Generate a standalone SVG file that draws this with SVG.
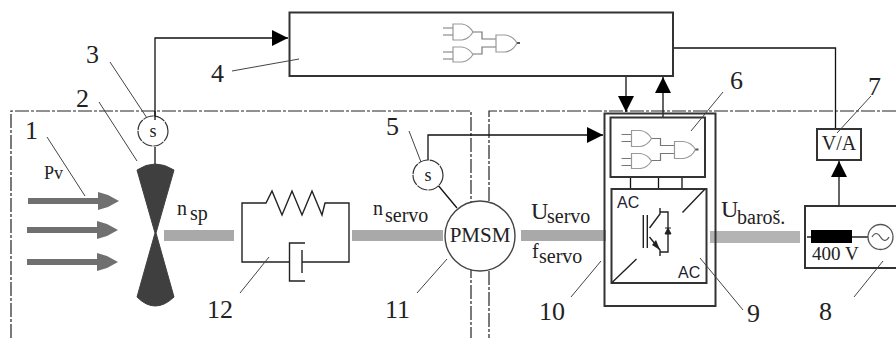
<svg xmlns="http://www.w3.org/2000/svg" xmlns:xlink="http://www.w3.org/1999/xlink" width="896" height="338" viewBox="0 0 896 338">
<style>
text{font-family:"Liberation Serif","Times New Roman",serif;fill:#222}
.num{font-size:26px}
.lbl{font-size:20px}
.ac{font-family:"Liberation Sans",Arial,sans-serif;font-size:16px;fill:#223}
.box{fill:#fff;stroke:#333;stroke-width:2}
.nf{fill:none;stroke:#222;stroke-width:1.4}
.lead{fill:none;stroke:#444;stroke-width:1}
.wire{fill:none;stroke:#111;stroke-width:1.3}
.frame{fill:none;stroke:#222;stroke-width:1.2;stroke-dasharray:14 2 3 2}
.bar{fill:#a9a9a9}
.sens{fill:#fff;stroke:#333;stroke-width:1.2;stroke-dasharray:11 1}
.flow{fill:#707070;stroke:none}
.g{fill:#fff;stroke:#999;stroke-width:1.2}
.g2{fill:none;stroke:#777;stroke-width:1.2}
</style>
<defs>
<marker id="ah" markerUnits="userSpaceOnUse" markerWidth="17" markerHeight="16" refX="16" refY="8" orient="auto"><path d="M0 0L16 8L0 16Z" fill="#000"/></marker>
<g id="gates">
<path class="g2" d="M443 28H453M443 35H453M443 52H453M443 59H453M472 32H482V39H496M472 54H482V47H496"/>
<path class="g" d="M453 24H462Q469 25 473 32Q469 39 462 40H453Z"/>
<path class="g" d="M453 47H462Q469 48 473 54.500Q469 61 462 62H453Z"/>
<path class="g" d="M496 35H505Q513 36 517 43Q513 51 505 52H496Z"/>
<path d="M517 43L520 43" stroke="#555" stroke-width="2"/>
</g>
<path id="flow" d="M0 -3H70V-9L80 -6L91 0L80 6L70 9V3H0Z"/>
</defs>

<g id="frames">
<path class="frame" d="M11 338V111H471V338"/>
<path class="frame" d="M896 111H489V338"/>
</g>

<g id="shafts">
<rect class="bar" x="164" y="230" width="70" height="11"/>
<rect class="bar" x="352" y="230" width="91" height="11"/>
<rect class="bar" x="521" y="230" width="85" height="11"/>
<rect x="710" y="231" width="90" height="12" fill="#b4b4b4"/>
</g>

<g id="connectors">
<path class="wire" d="M155 120V38H288" marker-end="url(#ah)"/>
<path class="wire" d="M155 147V164"/>
<path class="wire" d="M428 160V135H603" marker-end="url(#ah)"/>
<path class="wire" d="M437 184L457 208"/>
<path class="wire" d="M626 76V112" marker-end="url(#ah)"/>
<path class="wire" d="M663 117V77" marker-end="url(#ah)"/>
<path class="wire" d="M673 48H835.500V129"/>
<path class="wire" d="M839 206V161" marker-end="url(#ah)"/>
<path class="wire" d="M630.500 177V189M658.500 177V189M682 177V189"/>
</g>

<g id="node-wind">
<use href="#flow" x="28" y="201" class="flow"/>
<use href="#flow" x="27" y="230" class="flow"/>
<use href="#flow" x="27" y="262" class="flow"/>
<text x="44" y="179" style="font-size:18px">Pv</text>
</g>

<g id="node-turbine">
<path d="M137 170Q155 158 174 170L156 233L174 297Q155 315 137 297L155 233Z" fill="#3f3f3f" stroke="#3f3f3f" stroke-width="1" stroke-linejoin="round"/>
</g>

<g id="node-sensor-3">
<circle class="sens" cx="153" cy="131" r="15"/>
<path class="wire" d="M155 111V120"/>
<text x="153" y="137" text-anchor="middle" style="font-size:18px">s</text>
</g>

<g id="node-controller">
<rect class="box" x="289.500" y="12.500" width="383.500" height="63.500"/>
<use href="#gates"/>
</g>

<g id="node-coupling">
<path class="nf" d="M289 262H242V203H266L272 191L282 215L292 191L302 215L312 191L322 215L325 203H349V262H302"/>
<path class="nf" d="M305 243H289.500V281H305"/>
<path class="nf" d="M302 250V273"/>
</g>

<g id="node-sensor-5">
<circle class="sens" cx="428" cy="175" r="15"/>
<text x="428" y="181" text-anchor="middle" style="font-size:18px">s</text>
</g>

<g id="node-pmsm">
<circle cx="480" cy="236" r="35" fill="#fff" stroke="#444" stroke-width="1.4"/>
<text x="480" y="242" text-anchor="middle" style="font-size:21px">PMSM</text>
</g>

<g id="node-converter">
<rect x="604.500" y="113.500" width="111" height="192.500" fill="none" stroke="#333" stroke-width="2"/>
</g>

<g id="node-logic">
<rect class="box" x="610.500" y="117.500" width="94.500" height="59.500"/>
<use href="#gates" x="178.500" y="106.500"/>
</g>

<g id="node-inverter">
<rect class="box" x="611.500" y="189" width="95" height="94"/>
<path class="nf" d="M611.500 283L636.500 259M705 189L682.500 212.500"/>
<path class="nf" d="M643.300 215V248M647.300 215V248M649.500 228L660 214V208M660 212H668V252H660M649.500 237L660 250V256"/>
<path d="M660 250L652 245L656 240Z" fill="#222"/>
<path d="M665 234H671L668 228ZM665 228H671" fill="#222" stroke="#222" stroke-width="1"/>
<text class="ac" x="617" y="208">AC</text>
<text class="ac" x="678" y="278">AC</text>
</g>

<g id="node-va">
<rect class="box" x="817" y="129" width="44" height="31"/>
<text x="839" y="150" text-anchor="middle" style="font-size:20px">V/A</text>
</g>

<g id="node-grid">
<rect class="box" x="805" y="206" width="92" height="62"/>
<rect x="811" y="230" width="41" height="13" fill="#000"/>
<path class="nf" d="M807 237H811M852 237H868"/>
<circle cx="880.500" cy="237" r="12.500" fill="#fff" stroke="#555" stroke-width="1.3"/>
<path d="M872 237Q876 230 880.500 237T889 237" fill="none" stroke="#555" stroke-width="1.2"/>
<text x="812" y="260" style="font-size:19px">400 V</text>
</g>

<g id="labels">
<text class="lbl" x="177" y="215">n<tspan x="190" dy="5">sp</tspan></text>
<text class="lbl" x="373" y="215">n<tspan x="385" dy="7">servo</tspan></text>
<text class="lbl" x="531" y="219" style="font-size:24px">U<tspan x="547" dy="4" style="font-size:20px">servo</tspan></text>
<text class="lbl" x="532" y="258">f<tspan x="539" dy="5">servo</tspan></text>
<text class="lbl" x="721" y="217" style="font-size:24px">U<tspan x="737" dy="7" style="font-size:20px">baroš.</tspan></text>
</g>

<g id="callouts">
<path class="lead" d="M47 137L85 196M99 102L137 161M110 62L147 118M232 71L299 59M409 131L421 162M723 92L691 131M871 96L837 133M883 261L854 297M700 258L743 310M601 261L571 297M447 259L417 293M269 257L240 293"/>
<text class="num" x="25" y="139">1</text>
<text class="num" x="76" y="107">2</text>
<text class="num" x="86" y="63">3</text>
<text class="num" x="211" y="82">4</text>
<text class="num" x="386" y="135">5</text>
<text class="num" x="730" y="89">6</text>
<text class="num" x="868" y="95">7</text>
<text class="num" x="819" y="320">8</text>
<text class="num" x="747" y="322">9</text>
<text class="num" x="539" y="320">10</text>
<text class="num" x="385" y="318">11</text>
<text class="num" x="207" y="318">12</text>
</g>
</svg>
